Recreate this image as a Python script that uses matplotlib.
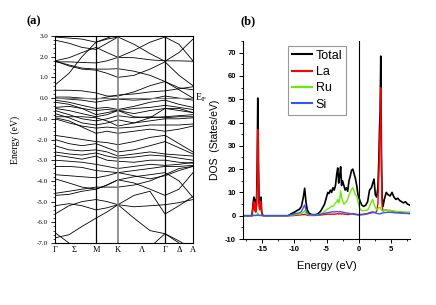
import numpy as np
import matplotlib
matplotlib.use("Agg")
import matplotlib.pyplot as plt
from matplotlib.ticker import MultipleLocator

plt.rcParams['axes.unicode_minus'] = False
plt.rcParams['mathtext.fontset'] = 'stix'

# ---- band structure (a) ----
# k positions along the path (arbitrary units), sampled at 11 points
kpath = [0, 14, 27, 41, 52, 63, 79, 95, 110, 124, 138]
sym_pos = [0, 19, 41, 63, 87, 110, 124, 138]
sym_labels = ['Γ', 'Σ', 'M', 'K', 'Λ', 'Γ', 'Δ', 'A']

bands = [
    [2.95, 2.9, 2.85, 2.7, 2.85, 2.95, 2.6, 2.15, 1.78, 2.2, 2.85],
    [2.8, 2.65, 2.45, 2.35, 2.65, 2.95, 3.2, 3.2, 3.2, 3.2, 3.2],
    [1.8, 1.95, 2.2, 2.45, 2.2, 1.97, 1.95, 1.85, 1.8, 1.8, 1.78],
    [1.75, 1.75, 1.72, 1.7, 1.8, 1.97, 2.3, 2.7, 2.95, 2.6, 1.8],
    [0.63, 1.2, 2.0, 2.7, 2.9, 3.1, 3.2, 3.2, 3.2, 3.2, 3.2],
    [1.8, 1.55, 1.4, 1.35, 1.2, 1.0, 1.1, 1.4, 1.75, 1.1, 0.6],
    [1.78, 1.6, 1.45, 1.4, 1.4, 1.42, 1.3, 1.1, 0.8, 0.5, 0.4],
    [0.38, 0.38, 0.35, 0.25, 0.1, 0.1, 0.3, 0.6, 0.8, 0.4, 0.0],
    [0.05, 0.05, 0.0, -0.05, 0.05, 0.15, 0.2, 0.3, 0.35, 0.45, 0.55],
    [0.0, -0.05, -0.1, -0.2, -0.1, -0.05, -0.1, -0.05, 0.1, 0.0, -0.1],
    [-0.1, -0.2, -0.35, -0.5, -0.45, -0.55, -0.4, -0.2, -0.1, -0.3, -0.45],
    [-0.2, -0.3, -0.5, -0.8, -0.7, -0.6, -0.5, -0.45, -0.35, -0.45, -0.55],
    [-0.45, -0.4, -0.5, -0.6, -0.55, -0.6, -0.75, -0.6, -0.5, -0.6, -0.7],
    [-0.5, -0.6, -0.75, -0.9, -0.8, -0.6, -0.9, -0.95, -0.9, -0.85, -0.8],
    [-0.6, -0.8, -1.0, -1.1, -1.0, -0.85, -0.95, -0.9, -0.95, -0.9, -0.9],
    [-0.75, -0.95, -1.2, -1.3, -1.2, -1.05, -1.2, -0.95, -0.5, -0.5, -0.7],
    [-0.9, -0.9, -0.9, -0.95, -1.1, -1.35, -1.2, -1.1, -1.0, -1.0, -0.95],
    [-1.0, -1.2, -1.35, -1.45, -1.4, -1.45, -1.4, -1.3, -1.3, -1.3, -1.25],
    [-0.95, -1.1, -1.4, -1.7, -1.6, -1.7, -1.6, -1.5, -1.6, -1.5, -1.35],
    [-1.8, -1.9, -2.0, -2.1, -2.15, -2.25, -2.1, -1.9, -1.8, -2.2, -2.6],
    [-2.0, -2.2, -2.3, -2.2, -2.4, -2.6, -2.5, -2.3, -2.1, -2.4, -2.7],
    [-2.3, -2.5, -2.55, -2.5, -2.6, -2.8, -2.7, -2.6, -2.7, -2.75, -2.8],
    [-2.6, -2.7, -2.75, -2.65, -2.8, -2.9, -2.85, -2.75, -2.8, -2.9, -3.0],
    [-2.75, -2.85, -2.95, -2.8, -3.0, -3.05, -3.1, -3.0, -3.0, -3.1, -3.15],
    [-3.0, -3.05, -3.1, -3.2, -3.3, -3.4, -3.3, -3.2, -3.25, -3.2, -3.1],
    [-3.3, -3.3, -3.35, -3.5, -3.55, -3.6, -3.5, -3.4, -3.3, -3.3, -3.25],
    [-3.7, -3.75, -3.8, -3.85, -3.75, -3.6, -3.75, -3.9, -3.75, -3.5, -3.3],
    [-3.9, -4.1, -4.3, -4.4, -4.2, -3.95, -4.1, -4.4, -4.7, -4.4, -3.6],
    [-4.6, -4.5, -4.4, -4.3, -4.3, -4.3, -4.2, -4.0, -3.7, -3.4, -3.3],
    [-4.7, -4.65, -4.5, -4.4, -4.2, -3.95, -3.8, -3.7, -3.6, -4.0, -4.8],
    [-5.6, -5.2, -5.0, -4.9, -5.0, -5.15, -5.25, -5.2, -5.15, -5.05, -4.9],
    [-5.2, -5.1, -5.2, -5.4, -5.3, -5.15, -4.7, -4.5, -5.6, -5.2, -4.75],
    [-6.75, -6.6, -6.2, -5.8, -5.5, -5.15, -5.8, -6.4, -6.55, -6.9, -7.3],
    [-6.5, -7.0, -7.5, -7.5, -7.5, -7.5, -7.5, -7.2, -6.55, -7.0, -7.5],
]

# ---- DOS (b) ----
energy = [
    -18.0, -16.6, -16.4, -16.3, -16.2, -16.1, -16.0, -15.9, -15.8, -15.7,
    -15.6, -15.5, -15.4, -15.3, -15.2, -15.1, -15.0, -14.8, -11.0, -10.5,
    -10.0, -9.6, -9.2, -8.9, -8.6, -8.4, -8.2, -8.0, -7.7, -7.3,
    -6.8, -6.3, -5.9, -5.6, -5.3, -5.0, -4.8, -4.6, -4.4, -4.2,
    -4.0, -3.8, -3.6, -3.4, -3.25, -3.1, -2.95, -2.8, -2.65, -2.5,
    -2.3, -2.1, -1.9, -1.7, -1.5, -1.3, -1.1, -0.9, -0.7, -0.5,
    -0.3, -0.1, 0.2, 0.5, 0.8, 1.1, 1.4, 1.7, 2.0, 2.2,
    2.4, 2.6, 2.8, 3.0, 3.15, 3.25, 3.35, 3.45, 3.55, 3.65,
    3.8, 4.0, 4.3, 4.6, 4.9, 5.2, 5.5, 5.8, 6.1, 6.4,
    6.7, 7.0, 7.3, 7.6, 8.0,
]
dos_total = [
    0, 0, 6, 8, 3, 7, 2, 5, 20, 50.5,
    25, 6, 3, 7, 8, 2, 0.5, 0, 0, 0.8,
    1.5, 2.2, 2.8, 4, 8, 11.8, 6, 2.5, 1, 0.5,
    0.4, 0.8, 2, 3.5, 5, 8, 10, 9.5, 11, 10,
    12, 11, 13, 18, 20.5, 14, 17, 21, 13, 15,
    13, 11, 12, 10.5, 15, 17, 19.5, 20, 18, 16,
    13, 9, 6.5, 4.5, 4, 4.5, 6, 11, 12, 14,
    15.7, 9, 8, 12, 24, 37, 45, 68.5, 28, 8,
    4, 7, 10, 9, 8.5, 10, 8, 7, 7.5, 6.5,
    6, 5.5, 6, 5, 4.5,
]
dos_la = [
    0, 0, 5, 6, 2, 5.5, 1.5, 4, 15, 37,
    18, 5, 2.5, 6, 6, 1.5, 0.3, 0, 0, 0,
    0.1, 0.2, 0.3, 0.4, 0.5, 0.6, 0.4, 0.2, 0.1, 0.1,
    0.1, 0.2, 0.3, 0.4, 0.5, 0.6, 0.7, 0.6, 0.7, 0.6,
    0.7, 0.6, 0.7, 0.8, 0.9, 0.7, 0.8, 0.9, 0.7, 0.8,
    0.7, 0.6, 0.6, 0.5, 0.6, 0.7, 0.8, 0.9, 0.8, 0.7,
    0.6, 0.5, 0.5, 0.6, 0.7, 0.8, 1.0, 1.3, 1.5, 1.6,
    1.5, 1.3, 1.8, 5, 18, 30, 38, 55, 20, 4,
    2, 2.3, 2.5, 2.2, 2.3, 2, 1.8, 1.7, 1.5, 1.4,
    1.3, 1.2, 1.1, 1.0, 0.9,
]
dos_ru = [
    0, 0, 0.2, 0.3, 0.1, 0.2, 0.1, 0.2, 0.5, 1.2,
    0.6, 0.2, 0.1, 0.2, 0.2, 0.1, 0, 0, 0, 0.2,
    0.4, 0.6, 0.7, 0.9, 1.5, 2.2, 1.2, 0.6, 0.3, 0.2,
    0.2, 0.4, 0.8, 1.2, 1.8, 2.5, 2.9, 3.2, 3.6, 4.1,
    4.1, 4.5, 5.5, 6, 7, 5.5, 7, 10.7, 8, 6.5,
    5, 5.5, 6, 7.1, 9, 10, 11.4, 12, 10.5, 9,
    8.5, 6, 3, 2.2, 2.2, 2.3, 2.4, 4, 6, 7,
    5, 3.5, 2.5, 3, 3.5, 3.5, 3.5, 3, 2.5, 2.2,
    2.0, 2.2, 2.5, 2.2, 2.3, 2.1, 2.0, 1.9, 1.8, 1.8,
    1.7, 1.6, 1.6, 1.5, 1.5,
]
dos_si = [
    0, 0, 0.1, 0.1, 0.1, 0.1, 0.1, 0.1, 0.2, 0.3,
    0.2, 0.1, 0.1, 0.1, 0.1, 0.1, 0, 0, 0, 0.4,
    0.8, 1.0, 1.2, 1.8, 3.5, 4.6, 2.5, 1.2, 0.5, 0.3,
    0.2, 0.3, 0.6, 0.8, 1.0, 1.2, 1.3, 1.4, 1.5, 1.6,
    1.7, 1.6, 1.7, 1.8, 1.7, 1.6, 1.8, 1.7, 1.6, 1.5,
    1.4, 1.3, 1.2, 1.1, 1.0, 0.9, 0.8, 0.7, 0.6, 0.5,
    0.4, 0.3, 0.3, 0.4, 0.5, 0.6, 0.8, 1.0, 1.2, 1.3,
    1.4, 1.2, 1.0, 0.9, 0.8, 0.8, 0.8, 0.9, 1.0, 1.1,
    1.2, 1.3, 1.4, 1.5, 1.5, 1.4, 1.3, 1.2, 1.2, 1.1,
    1.1, 1.0, 1.0, 1.0, 0.9,
]

serif = 'Liberation Serif'
sans = 'Liberation Sans'

fig = plt.figure(figsize=(4.36, 3.05), dpi=100)

# left panel
ax1 = fig.add_axes([55/436, 62/305, 138/436, 207/305])
for b in bands:
    ax1.plot(kpath, b, color='black', lw=0.6)
ax1.axhline(0, color='gray', lw=0.8)
for k in [41, 110]:
    ax1.axvline(k, color='black', lw=0.9)
ax1.axvline(63, color='gray', lw=1.2)
ax1.set_xlim(kpath[0], kpath[-1])
ax1.set_ylim(-7, 3)
ax1.set_xticks(sym_pos)
ax1.set_xticklabels(sym_labels, family=serif, fontsize=6)
ax1.tick_params(axis='x', length=0, pad=2)
ax1.yaxis.set_minor_locator(MultipleLocator(0.2))
ax1.set_yticks(np.arange(-7, 3.5, 1))
ax1.set_yticklabels(['%.1f' % v for v in np.arange(-7, 3.5, 1)], family=serif, fontsize=5)
ax1.tick_params(axis='y', which='major', length=3, width=0.6, direction='out', pad=2)
ax1.tick_params(axis='y', which='minor', length=1.5, width=0.5, direction='out')
for s in ax1.spines.values():
    s.set_linewidth(0.8)
ax1.text(kpath[-1] + 2, 0, r'E$_{\rm F}$', va='center', ha='left', fontsize=7, family=serif)
fig.text(15/436, 1 - 140/305, 'Energy (eV)', rotation=90, va='center', ha='center',
         fontsize=7, family=serif)
fig.text(34/436, 1 - 21/305, '(a)', fontsize=9, fontweight='bold', family=serif,
         va='center', ha='center')

# right panel
ax2 = fig.add_axes([243/436, 66/305, 167/436, 198/305])
ax2.plot(energy, dos_total, color='black', lw=1.2, label='Total')
ax2.plot(energy, dos_la, color='#ff0000', lw=1.0, label='La')
ax2.plot(energy, dos_ru, color='#66ee00', lw=1.0, label='Ru')
ax2.plot(energy, dos_si, color='#3355ff', lw=1.0, label='Si')
ax2.axvline(0, color='black', lw=0.8)
ax2.set_xlim(-18, 8)
ax2.set_ylim(-10, 75)
ax2.xaxis.set_major_locator(MultipleLocator(5))
ax2.xaxis.set_minor_locator(MultipleLocator(2.5))
ax2.yaxis.set_major_locator(MultipleLocator(10))
ax2.yaxis.set_minor_locator(MultipleLocator(5))
ax2.tick_params(which='major', length=3, width=0.7, direction='out', pad=2, labelsize=5.5)
ax2.tick_params(which='minor', length=1.5, width=0.6, direction='out')
for lab in ax2.get_xticklabels() + ax2.get_yticklabels():
    lab.set_family(sans)
    lab.set_fontweight('bold')
ax2.spines['top'].set_visible(False)
ax2.spines['right'].set_visible(False)
ax2.set_xlabel('Energy (eV)', family=sans, fontsize=8, labelpad=6)
ax2.set_ylabel('DOS  (States/eV)', family=sans, fontsize=7.5, labelpad=4)
leg = ax2.legend(loc='upper left', bbox_to_anchor=(0.27, 0.975),
                 prop={'family': sans, 'size': 9}, frameon=True, fancybox=False,
                 handlelength=1.6, handletextpad=0.3, borderpad=0.3, labelspacing=0.35,
                 borderaxespad=0)
for line in leg.get_lines():
    line.set_linewidth(1.5)
leg.get_frame().set_edgecolor('gray')
leg.get_frame().set_linewidth(0.8)
fig.text(248/436, 1 - 21/305, '(b)', fontsize=9, fontweight='bold', family=serif,
         va='center', ha='center')

fig.savefig('out.png', dpi=100)
